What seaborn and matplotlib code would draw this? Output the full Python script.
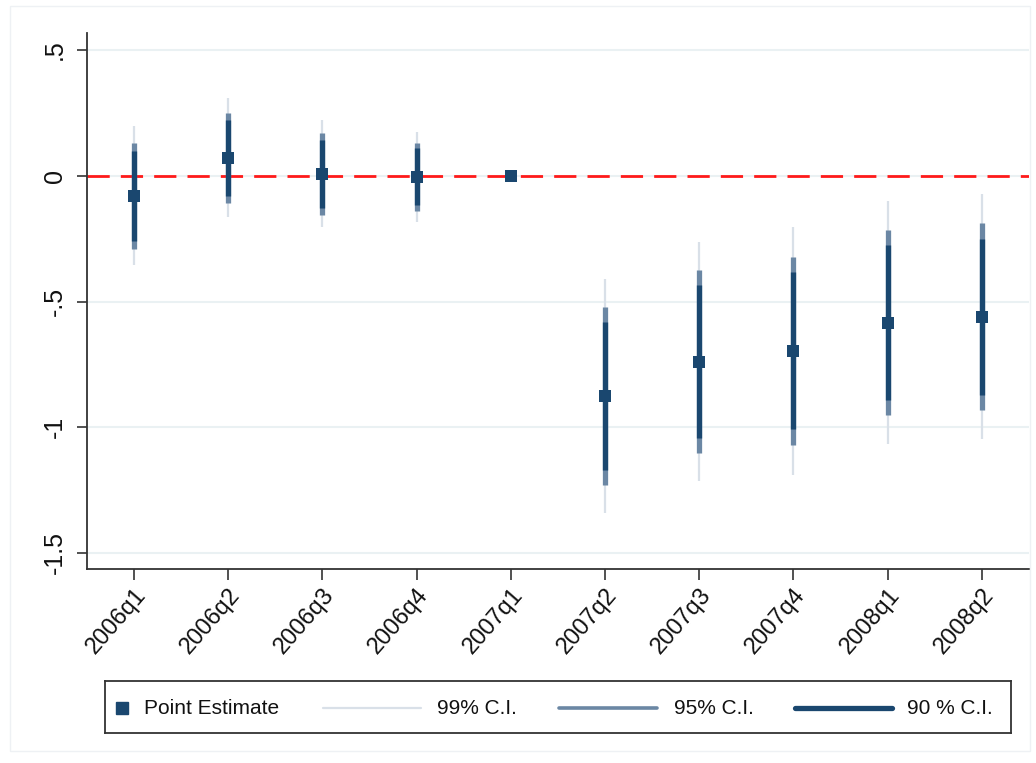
import matplotlib
matplotlib.use("Agg")
import matplotlib.pyplot as plt
import seaborn as sns
import pandas as pd
import numpy as np
from matplotlib.patches import Rectangle

quarters = ["2006q1", "2006q2", "2006q3", "2006q4", "2007q1",
            "2007q2", "2007q3", "2007q4", "2008q1", "2008q2"]
estimate = [-0.082, 0.071, 0.008, -0.005, 0.0, -0.876, -0.740, -0.697, -0.584, -0.560]
ci90_lo = [-0.259, -0.080, -0.129, -0.118, 0.0, -1.171, -1.043, -1.009, -0.892, -0.870]
ci90_hi = [0.097, 0.223, 0.143, 0.111, 0.0, -0.580, -0.436, -0.382, -0.276, -0.250]
ci95_lo = [-0.292, -0.109, -0.155, -0.139, 0.0, -1.228, -1.102, -1.069, -0.952, -0.930]
ci95_hi = [0.130, 0.250, 0.170, 0.130, 0.0, -0.523, -0.376, -0.321, -0.215, -0.188]
ci99_lo = [-0.356, -0.165, -0.204, -0.182, 0.0, -1.340, -1.215, -1.189, -1.065, -1.045]
ci99_hi = [0.198, 0.311, 0.220, 0.174, 0.0, -0.410, -0.262, -0.205, -0.100, -0.073]
yticks = [0.5, 0.0, -0.5, -1.0, -1.5]
ytick_labels = [".5", "0", "-.5", "-1", "-1.5"]
legend_labels = ["Point Estimate", "99% C.I.", "95% C.I.", "90 % C.I."]

df = pd.DataFrame({"quarter": quarters, "pos": np.arange(len(quarters)),
                   "est": estimate})

sns.set_theme(style="white")
plt.rcParams["font.family"] = ["Liberation Sans", "DejaVu Sans"]

navy = "#1a476f"
c95 = "#6b87a4"
c99 = "#d9e0e8"
W, H = 1036, 763

fig = plt.figure(figsize=(W / 100, H / 100), dpi=100)
ax = fig.add_axes([86.7 / W, 1 - 569 / H, (1029 - 86.7) / W, (569 - 33) / H])

# faint outer region border
fig.patches.append(Rectangle((10 / W, 12 / H), 1020 / W, 745 / H,
                             transform=fig.transFigure, fill=False,
                             edgecolor="#eef1f4", linewidth=1.0))

for yv in yticks:
    ax.axhline(yv, color="#eaf1f3", linewidth=1.5, zorder=0)
ax.axhline(0, color="#ff1a1a", linewidth=2.0, dashes=(8, 4), zorder=1)

pos = df["pos"].to_numpy()
mask = np.array(ci99_hi) != np.array(ci99_lo)
ax.vlines(pos[mask], np.array(ci99_lo)[mask], np.array(ci99_hi)[mask],
          color=c99, linewidth=1.6, zorder=2)
ax.vlines(pos[mask], np.array(ci95_lo)[mask], np.array(ci95_hi)[mask],
          color=c95, linewidth=3.8, zorder=3)
ax.vlines(pos[mask], np.array(ci90_lo)[mask], np.array(ci90_hi)[mask],
          color=navy, linewidth=3.8, zorder=4)

sns.scatterplot(data=df, x="pos", y="est", ax=ax, marker="s", s=78,
                color=navy, edgecolor=navy, linewidth=0, zorder=5, legend=False)

ax.set_xlim(-0.5, 9.5)
ax.set_ylim(-1.564, 0.568)
ax.set_xticks(pos)
ax.set_xticklabels(quarters, rotation=49, ha="right", rotation_mode="anchor",
                   fontsize=17, color="#111111")
ax.set_yticks(yticks)
ax.set_yticklabels(ytick_labels, rotation=90, va="center", fontsize=18,
                   color="#111111")
ax.set_xlabel("")
ax.set_ylabel("")
ax.tick_params(axis="x", direction="out", length=8, width=1.2,
               color="#333333", bottom=True, pad=3)
ax.tick_params(axis="y", direction="out", length=7.5, width=1.2,
               color="#333333", left=True, pad=7)
for side in ["top", "right"]:
    ax.spines[side].set_visible(False)
for side in ["left", "bottom"]:
    ax.spines[side].set_color("#333333")
    ax.spines[side].set_linewidth(1.3)

# legend box (pixel coordinates of figure)
lax = fig.add_axes([105 / W, 1 - 733 / H, (1011 - 105) / W, (733 - 681) / H])
lax.set_xlim(105, 1011)
lax.set_ylim(733, 681)
lax.set_xticks([])
lax.set_yticks([])
for s in lax.spines.values():
    s.set_visible(True)
    s.set_color("#333333")
    s.set_linewidth(1.3)
yc = 708
lax.plot([122], [yc], marker="s", markersize=8.5, color=navy, linestyle="none")
lax.plot([323, 421], [yc, yc], color=c99, linewidth=1.6)
lax.plot([559, 657], [yc, yc], color=c95, linewidth=2.6)
lax.plot([795, 892], [yc, yc], color=navy, linewidth=3.8)
for xt, lab in zip([144, 437, 674, 907], legend_labels):
    lax.text(xt, yc + 1, lab, fontsize=15, va="center", ha="left",
             color="#111111")

fig.savefig("out.png", dpi=100)
